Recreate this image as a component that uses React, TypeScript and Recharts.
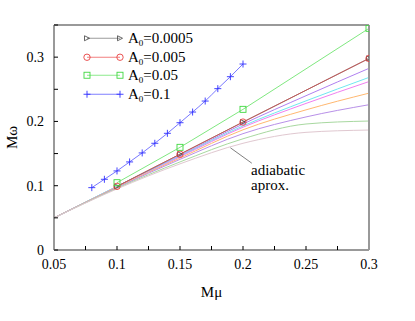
import React from 'react';
import { LineChart, Line, XAxis, YAxis, Legend, ReferenceLine, Label } from 'recharts';

// A0 = 0.1 series (blue, plus markers)
const muBlue = [0.08, 0.09, 0.1, 0.11, 0.12, 0.13, 0.14, 0.15, 0.16, 0.17, 0.18, 0.19, 0.2];
const omegaBlue = [0.097, 0.11, 0.123, 0.137, 0.151, 0.166, 0.1815, 0.198, 0.2146, 0.2317, 0.251, 0.2696, 0.2893];

// marked series sampled at the same Mμ values
const muMarked = [0.1, 0.15, 0.2, 0.3];
const omegaGray = [0.099, 0.149, 0.199, 0.298];
const omegaRed = [0.099, 0.149, 0.199, 0.298];
const omegaGreen = [0.1047, 0.1597, 0.2188, 0.3448];

// adiabatic approximation curves
const muAdiabatic = [0.05, 0.1, 0.15, 0.2, 0.25, 0.3];
const adiabaticCurves = [
  { name: 'ad1', color: '#b080f0', values: [0.05, 0.099, 0.147, 0.196, 0.24, 0.2826] },
  { name: 'ad2', color: '#70e8f0', values: [0.05, 0.099, 0.146, 0.193, 0.232, 0.2685] },
  { name: 'ad3', color: '#f080f0', values: [0.05, 0.098, 0.145, 0.191, 0.228, 0.262] },
  { name: 'ad4', color: '#ffb870', values: [0.05, 0.098, 0.143, 0.187, 0.218, 0.244] },
  { name: 'ad5', color: '#b890e8', values: [0.05, 0.097, 0.141, 0.181, 0.207, 0.226] },
  { name: 'ad6', color: '#a8d8a0', values: [0.05, 0.096, 0.137, 0.173, 0.196, 0.2006] },
  { name: 'ad7', color: '#e0c8d0', values: [0.05, 0.095, 0.134, 0.166, 0.183, 0.1866] },
];

const xTicks = [0.05, 0.075, 0.1, 0.125, 0.15, 0.175, 0.2, 0.225, 0.25, 0.275, 0.3];
const xLabels = [0.05, 0.1, 0.15, 0.2, 0.25, 0.3];
const yTicks = [0, 0.05, 0.1, 0.15, 0.2, 0.25, 0.3, 0.35];
const yLabels = [0, 0.1, 0.2, 0.3];

const legendItems = [
  { label: '0.0005', color: '#909090', marker: 'tri' },
  { label: '0.005', color: '#f07070', marker: 'circle' },
  { label: '0.05', color: '#80e880', marker: 'square' },
  { label: '0.1', color: '#7070ff', marker: 'plus' },
];

const toPoints = (xs: number[], ys: number[]) => xs.map((x, i) => ({ x, y: ys[i] }));

const SERIF = '"Liberation Serif", "DejaVu Serif", serif';

function Marker({ type, cx, cy }: { type: string; cx: number; cy: number }) {
  if (type === 'tri')
    return <polygon points={`${cx - 2.5},${cy - 2.5} ${cx - 2.5},${cy + 2.5} ${cx + 2.5},${cy}`} fill="none" stroke="#404040" strokeWidth={0.8} />;
  if (type === 'circle') return <circle cx={cx} cy={cy} r={3.2} fill="none" stroke="#e84040" strokeWidth={0.9} />;
  if (type === 'square') return <rect x={cx - 3} y={cy - 3} width={6} height={6} fill="none" stroke="#40d840" strokeWidth={0.9} />;
  return (
    <g stroke="#3030ff" strokeWidth={0.9}>
      <line x1={cx - 3.5} y1={cy} x2={cx + 3.5} y2={cy} />
      <line x1={cx} y1={cy - 3.5} x2={cx} y2={cy + 3.5} />
    </g>
  );
}

const dotOf = (type: string) => (p: any) => <Marker key={`${type}-${p.index}`} type={type} cx={p.cx} cy={p.cy} />;

function LegendBox() {
  return (
    <div style={{ fontFamily: SERIF, fontSize: 15, color: '#000' }}>
      {legendItems.map((it) => (
        <div key={it.label} style={{ display: 'flex', height: 18.5, lineHeight: '18.5px' }}>
          <svg width={48} height={18.5}>
            <line x1={7} y1={9.25} x2={40} y2={9.25} stroke={it.color} strokeWidth={0.9} />
            <Marker type={it.marker} cx={7} cy={9.25} />
            <Marker type={it.marker} cx={40} cy={9.25} />
          </svg>
          <span>
            A<sub style={{ fontSize: 9, verticalAlign: '-3px', lineHeight: 0 }}>0</sub>={it.label}
          </span>
        </div>
      ))}
    </div>
  );
}

const tickStyle = { fill: '#000', fontSize: 14, fontFamily: SERIF };
const axisLineStyle = { stroke: '#999', strokeWidth: 2 };
const tickLineStyle = { stroke: '#000', strokeWidth: 1 };

export default function App() {
  return (
    <div style={{ position: 'absolute', left: 0, top: 0, width: 415, height: 321, background: '#fff' }}>
      <LineChart width={415} height={321} margin={{ top: 20, right: 41, bottom: 21, left: 0 }}>
        <XAxis
          xAxisId={0}
          dataKey="x"
          type="number"
          domain={[0.05, 0.3]}
          ticks={xTicks}
          interval={0}
          height={50}
          tickSize={-4}
          tickMargin={13}
          tick={tickStyle}
          axisLine={axisLineStyle}
          tickLine={tickLineStyle}
          tickFormatter={(v: number) => (xLabels.includes(v) ? String(v) : '')}
          allowDataOverflow
        >
          <Label
            content={({ viewBox }: any) => (
              <text x={viewBox.x + viewBox.width / 2} y={viewBox.y + 47} textAnchor="middle" fontFamily={SERIF} fontSize={15} fill="#000">
                Mμ
              </text>
            )}
          />
        </XAxis>
        <XAxis
          xAxisId="top"
          orientation="top"
          dataKey="x"
          type="number"
          domain={[0.05, 0.3]}
          ticks={xTicks}
          interval={0}
          height={5}
          tickSize={-4}
          tick={false}
          axisLine={axisLineStyle}
          tickLine={tickLineStyle}
          allowDataOverflow
        />
        <YAxis
          yAxisId={0}
          type="number"
          domain={[0, 0.35]}
          ticks={yTicks}
          interval={0}
          width={54}
          tickSize={-4}
          tickMargin={14}
          tick={tickStyle}
          axisLine={axisLineStyle}
          tickLine={tickLineStyle}
          tickFormatter={(v: number) => (yLabels.includes(v) ? String(v) : '')}
          allowDataOverflow
        >
          <Label
            content={({ viewBox }: any) => {
              const cx = viewBox.x + 12;
              const cy = viewBox.y + viewBox.height / 2;
              return (
                <text x={cx} y={cy} transform={`rotate(-90 ${cx} ${cy})`} textAnchor="middle" dominantBaseline="central" fontFamily={SERIF} fontSize={15} fill="#000">
                  Mω
                </text>
              );
            }}
          />
        </YAxis>
        <YAxis
          yAxisId="right"
          orientation="right"
          type="number"
          domain={[0, 0.35]}
          ticks={yTicks}
          interval={0}
          width={5}
          tickSize={-4}
          tick={false}
          axisLine={axisLineStyle}
          tickLine={tickLineStyle}
          allowDataOverflow
        />

        {adiabaticCurves.map((c) => (
          <Line
            key={c.name}
            data={toPoints(muAdiabatic, c.values)}
            dataKey="y"
            type="monotone"
            stroke={c.color}
            strokeWidth={1}
            dot={false}
            isAnimationActive={false}
          />
        ))}

        <Line data={toPoints(muMarked, omegaGray)} dataKey="y" type="linear" stroke="#707070" strokeWidth={1} dot={dotOf('tri')} isAnimationActive={false} />
        <Line data={toPoints(muMarked, omegaRed)} dataKey="y" type="linear" stroke="#e05050" strokeOpacity={0.75} strokeWidth={1} dot={dotOf('circle')} isAnimationActive={false} />
        <Line data={toPoints(muMarked, omegaGreen)} dataKey="y" type="linear" stroke="#80e880" strokeWidth={1} dot={dotOf('square')} isAnimationActive={false} />
        <Line data={toPoints(muBlue, omegaBlue)} dataKey="y" type="monotone" stroke="#7878ff" strokeWidth={1} dot={dotOf('plus')} isAnimationActive={false} />

        <ReferenceLine
          segment={[{ x: 0.19, y: 0.159 }, { x: 0.207, y: 0.135 }]}
          stroke="#808080"
          strokeWidth={1}
        />

        <Legend
          layout="vertical"
          align="center"
          verticalAlign="middle"
          content={() => <LegendBox />}
          wrapperStyle={{ position: 'absolute', left: 80, top: 29, width: 150, height: 76 }}
        />
      </LineChart>
      <div
        style={{
          position: 'absolute',
          left: 251,
          top: 162.5,
          fontFamily: SERIF,
          fontSize: 15,
          lineHeight: '15.5px',
          color: '#000',
          whiteSpace: 'nowrap',
        }}
      >
        adiabatic
        <br />
        aprox.
      </div>
    </div>
  );
}
